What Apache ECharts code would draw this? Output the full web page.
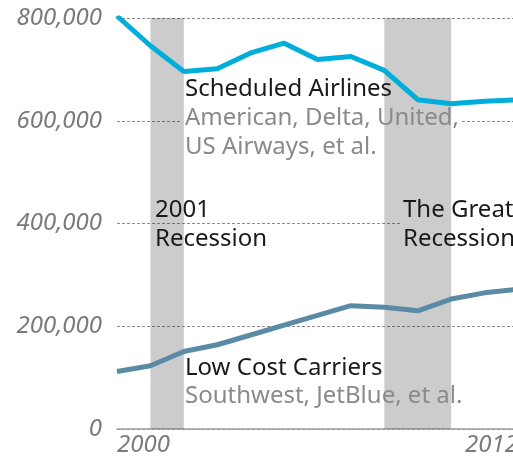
<!DOCTYPE html>
<html>
<head>
<meta charset="utf-8">
<script src="https://cdn.jsdelivr.net/npm/echarts@6/dist/echarts.min.js"></script>
<style>
  html, body { margin: 0; padding: 0; background: #fff; }
  #make { width: 513px; height: 458px; }
</style>
</head>
<body>
<div id="make"></div>
<script>
// 年份
var years = [2000, 2001, 2002, 2003, 2004, 2005, 2006, 2007, 2008, 2009, 2010, 2011, 2012];
// Scheduled Airlines
var scheduled = [804000, 746000, 696000, 701000, 732000, 751000, 719000, 725000, 698000, 641000, 633000, 638000, 641000];
// Low Cost Carriers
var lowCost = [112000, 123000, 151000, 164000, 183000, 202000, 221000, 240000, 237000, 230000, 253000, 265000, 272000];
// recession bands [start, end]
var recessions = [[2001, 2002], [2008, 2010]];
var yTicks = [0, 200000, 400000, 600000, 800000];

function pairs(vals) {
    return years.map(function (y, i) { return [y, vals[i]]; });
}

var font = '"Noto Sans", sans-serif';
var myChart = echarts.init(document.getElementById('make'));

var option = {
    animation: false,
    grid: {
        left: 117,
        right: -5,
        top: 18,
        bottom: 29,
        outerBoundsMode: 'none'
    },
    xAxis: {
        type: 'value',
        min: years[0],
        max: years[years.length - 1],
        interval: 12,
        axisLine: { show: true, lineStyle: { color: '#a0a0a0', width: 1.5 } },
        axisTick: { show: false },
        splitLine: { show: false },
        axisLabel: {
            margin: 4,
            color: '#7a7a7a',
            fontFamily: font,
            fontStyle: 'italic',
            fontSize: 24,
            alignMinLabel: 'left',
            alignMaxLabel: 'right',
            formatter: function (v) { return String(v); }
        }
    },
    yAxis: {
        type: 'value',
        min: yTicks[0],
        max: yTicks[yTicks.length - 1],
        interval: 200000,
        axisLine: { show: false },
        axisTick: { show: false },
        splitLine: {
            show: true,
            lineStyle: { color: '#8c8c8c', type: [3, 2], width: 1 }
        },
        axisLabel: {
            margin: 15,
            color: '#7a7a7a',
            fontFamily: font,
            fontStyle: 'italic',
            fontSize: 24,
            formatter: function (v) { return v === 0 ? '0' : v.toLocaleString('en-US'); }
        }
    },
    series: [
        {
            // 衰退期灰色区域 (半透明, 网格线透出)
            name: 'recessions',
            type: 'line',
            data: [],
            z: 2,
            silent: true,
            markArea: {
                silent: true,
                itemStyle: { color: 'rgba(0,0,0,0.2)' },
                data: recessions.map(function (r) {
                    return [{ xAxis: r[0] }, { xAxis: r[1] }];
                })
            }
        },
        {
            name: 'Scheduled Airlines',
            type: 'line',
            data: pairs(scheduled),
            symbol: 'none',
            lineStyle: { color: '#00aedb', width: 5 },
            z: 3
        },
        {
            name: 'Low Cost Carriers',
            type: 'line',
            data: pairs(lowCost),
            symbol: 'none',
            lineStyle: { color: '#5a8aa5', width: 5 },
            z: 3
        }
    ],
    graphic: []
};

// annotations
function note(x, y, text, color) {
    return {
        type: 'text',
        x: x,
        y: y,
        z: 10,
        style: {
            text: text,
            fill: color,
            font: '24px ' + font,
            verticalAlign: 'middle'
        }
    };
}
// white patch behind a text block, hides the grid line but sits under the bands
function patch(x, y, w, h) {
    return {
        type: 'rect',
        silent: true,
        z: 1,
        shape: { x: x, y: y, width: w, height: h },
        style: { fill: '#fff' }
    };
}
var dark = '#1a1a1a', grey = '#8a8a8a';
option.graphic = [
    patch(181, 78, 280, 82),
    patch(401, 196, 120, 56),
    note(185, 89, 'Scheduled Airlines', dark),
    note(185, 118, 'American, Delta, United,', grey),
    note(185, 147, 'US Airways, et al.', grey),
    note(155, 210, '2001', dark),
    note(155, 239, 'Recession', dark),
    note(403, 210, 'The Great', dark),
    note(403, 239, 'Recession', dark),
    note(185, 368, 'Low Cost Carriers', dark),
    note(185, 396, 'Southwest, JetBlue, et al.', grey)
];

myChart.setOption(option);
</script>
</body>
</html>
